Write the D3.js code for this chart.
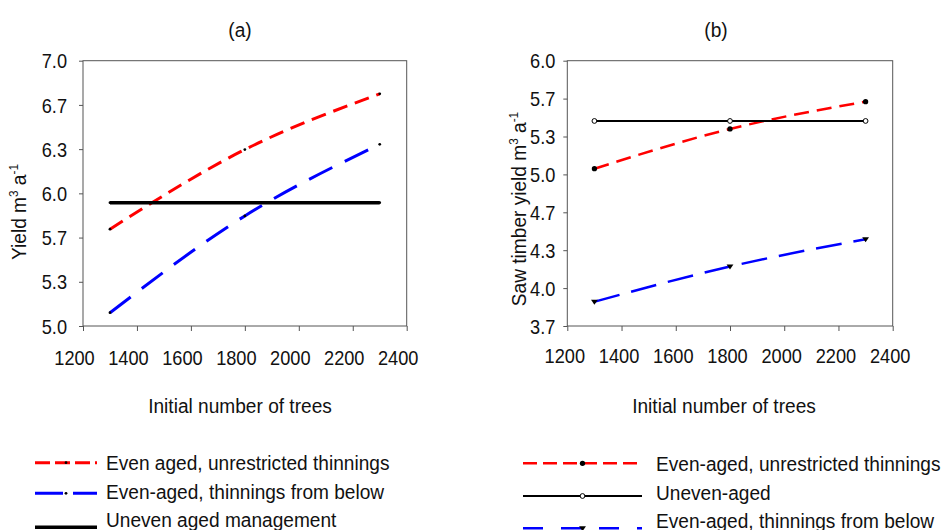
<!DOCTYPE html>
<html>
<head>
<meta charset="utf-8">
<script src="https://cdn.jsdelivr.net/npm/d3@7"></script>
<style>
  body { margin: 0; background: #fff; }
  text { font-family: "Liberation Sans", Arial, sans-serif; fill: #111; }
</style>
</head>
<body>
<div id="chart"></div>
<script>
// data
let trees = [1300, 1800, 2300]
let xTicks = [1200, 1400, 1600, 1800, 2000, 2200, 2400]

let yieldUnrestricted = [5.73, 6.33, 6.75]
let yieldFromBelow = [5.10, 5.83, 6.37]
let yieldUneven = [5.93, 5.93, 5.93]

let sawUnrestricted = [5.05, 5.40, 5.64]
let sawFromBelow = [3.88, 4.19, 4.43]
let sawUneven = [5.47, 5.47, 5.47]

let yTicksA = d3.range(7).map(i => 5 + i / 3)
let yTicksB = d3.range(8).map(i => 11 / 3 + i / 3)

let legendA = ["Even aged, unrestricted thinnings", "Even-aged, thinnings from below", "Uneven aged management"]
let legendB = ["Even-aged, unrestricted thinnings", "Uneven-aged", "Even-aged, thinnings from below"]

let sx = 0.91   // the original lettering is a bit narrow

let svg = d3.select("#chart").append("svg")
  .attr("width", 945)
  .attr("height", 530)

function squeezedText(g, x, y, str, size, anchor, rot) {
  let t = g.append("text")
    .attr("transform", `translate(${x},${y})` + (rot ? ` rotate(${rot})` : "") + ` scale(${sx},1)`)
    .attr("text-anchor", anchor || "middle")
    .style("font-size", size + "px")
  return t.text(str)
}

function supText(t, parts) {
  // parts: [text, isSup]
  t.text(null)
  let up = false
  parts.forEach(p => {
    let dy = 0
    if (p[1]) { dy = -8; up = true }
    else if (up) { dy = 8; up = false }
    let ts = t.append("tspan").attr("dy", dy).text(p[0])
    if (p[1]) ts.style("font-size", "13px")
  })
}

function makePanel(o) {
  let g = svg.append("g")
  let x = d3.scaleLinear().domain([1200, 2400]).range([o.left, o.right])
  let y = d3.scaleLinear().domain(o.yDomain).range([o.bottom, o.top])

  let xAxis = g.append("g")
    .attr("transform", `translate(0,${o.bottom})`)
    .call(d3.axisBottom(x).tickValues(xTicks).tickSize(5).tickFormat(d3.format("d")))
  let yAxis = g.append("g")
    .attr("transform", `translate(${o.left},0)`)
    .call(d3.axisLeft(y).tickValues(o.yTicks).tickSize(4).tickFormat(d3.format(".1f")))

  ;[xAxis, yAxis].forEach(a => {
    a.select(".domain").remove()
    a.selectAll("line").attr("stroke", "#555")
    a.selectAll("text")
      .attr("fill", "#111")
      .style("font-size", "20px")
      .style("font-family", '"Liberation Sans", Arial, sans-serif')
  })
  xAxis.selectAll("text")
    .attr("dy", 0)
    .attr("y", o.xLabY)
    .attr("x", o.xLabDx / sx)
    .attr("transform", `scale(${sx},1)`)
  yAxis.selectAll("text")
    .attr("dy", "0.36em")
    .attr("x", o.yLabDx / sx)
    .attr("transform", `scale(${sx},1)`)

  g.append("rect")
    .attr("x", o.left).attr("y", o.top)
    .attr("width", o.right - o.left).attr("height", o.bottom - o.top)
    .attr("fill", "none").attr("stroke", "#555").attr("stroke-width", 1)

  let line = d3.line()
    .x((d, i) => x(trees[i]))
    .y(d => y(d))
    .curve(d3.curveNatural)

  o.series.forEach(s => {
    g.append("path")
      .datum(s.values)
      .attr("d", line)
      .attr("fill", "none")
      .attr("stroke", s.color)
      .attr("stroke-width", s.width)
      .attr("stroke-dasharray", s.dash)

    g.selectAll(null)
      .data(s.values)
      .enter()
      .append("path")
      .attr("transform", (d, i) => `translate(${x(trees[i])},${y(d)})`)
      .attr("d", d3.symbol().type(s.marker).size(s.msize))
      .attr("fill", s.mfill)
      .attr("stroke", s.mstroke)
      .attr("stroke-width", 1)
  })

  squeezedText(g, o.titleX, 37, o.title, 21)
  squeezedText(g, o.xTitleX, 413, "Initial number of trees", 21)
  let yt = squeezedText(g, o.yTitleX, o.yTitleY, "", 21, "middle", -90)
  supText(yt, o.yTitle)

  // legend
  o.legend.forEach((l, i) => {
    let s = o.series[l.series]
    g.append("line")
      .attr("x1", o.legX1).attr("x2", o.legX2)
      .attr("y1", l.ly).attr("y2", l.ly)
      .attr("stroke", s.color)
      .attr("stroke-width", s.width)
      .attr("stroke-dasharray", l.dash)
    g.append("path")
      .attr("transform", `translate(${(o.legX1 + o.legX2) / 2},${l.ly})`)
      .attr("d", d3.symbol().type(s.marker).size(s.msize))
      .attr("fill", s.mfill)
      .attr("stroke", s.mstroke)
      .attr("stroke-width", 1)
    squeezedText(g, o.legTextX, l.ty, l.text, 21, "start")
  })
}

let triDown = {
  draw(ctx, size) {
    let r = Math.sqrt(size) / 1.6
    ctx.moveTo(-r, -r * 0.6)
    ctx.lineTo(r, -r * 0.6)
    ctx.lineTo(0, r * 0.9)
    ctx.closePath()
  }
}

makePanel({
  left: 83, right: 406.7, top: 60.7, bottom: 326,
  yDomain: [5, 7], yTicks: yTicksA,
  xLabY: 39, xLabDx: -9, yLabDx: -16,
  title: "(a)", titleX: 240,
  xTitleX: 240,
  yTitleX: 26, yTitleY: 212,
  yTitle: [["Yield m", false], ["3", true], [" a", false], ["-1", true]],
  series: [
    { values: yieldUnrestricted, color: "#ff0000", width: 3, dash: "15,8", marker: d3.symbolCircle, msize: 6, mfill: "#000", mstroke: "none" },
    { values: yieldFromBelow, color: "#0000ff", width: 3, dash: "26,14", marker: d3.symbolCircle, msize: 6, mfill: "#000", mstroke: "none" },
    { values: yieldUneven, color: "#000", width: 3.5, dash: null, marker: d3.symbolCircle, msize: 6, mfill: "#000", mstroke: "none" }
  ],
  legX1: 35, legX2: 97, legTextX: 106,
  legend: [
    { series: 0, text: legendA[0], ly: 462.7, ty: 470, dash: "15,5" },
    { series: 1, text: legendA[1], ly: 493.3, ty: 498.5, dash: "28,10" },
    { series: 2, text: legendA[2], ly: 527.3, ty: 527, dash: null }
  ]
})

makePanel({
  left: 567.3, right: 892.7, top: 60.7, bottom: 326,
  yDomain: [11 / 3, 6], yTicks: yTicksB,
  xLabY: 37, xLabDx: -3, yLabDx: -12,
  title: "(b)", titleX: 716,
  xTitleX: 724,
  yTitleX: 526, yTitleY: 209,
  yTitle: [["Saw timber yield m", false], ["3", true], [" a", false], ["-1", true]],
  series: [
    { values: sawUnrestricted, color: "#ff0000", width: 2.5, dash: "15,8", marker: d3.symbolCircle, msize: 22, mfill: "#000", mstroke: "none" },
    { values: sawUneven, color: "#000", width: 2, dash: null, marker: d3.symbolCircle, msize: 18, mfill: "#fff", mstroke: "#000" },
    { values: sawFromBelow, color: "#0000ff", width: 2.5, dash: "26,12", marker: triDown, msize: 30, mfill: "#000", mstroke: "none" }
  ],
  legX1: 523, legX2: 642, legTextX: 656,
  legend: [
    { series: 0, text: legendB[0], ly: 463.3, ty: 470.5, dash: "14,6" },
    { series: 1, text: legendB[1], ly: 496, ty: 500, dash: null },
    { series: 2, text: legendB[2], ly: 528.3, ty: 528, dash: "20,18" }
  ]
})
</script>
</body>
</html>
